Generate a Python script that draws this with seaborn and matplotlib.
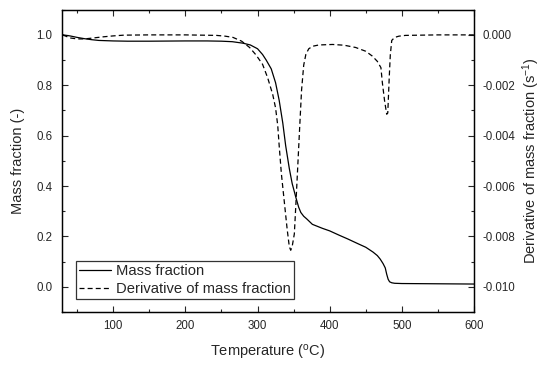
import numpy as np
import pandas as pd
import matplotlib
matplotlib.use("Agg")
import matplotlib.pyplot as plt
from matplotlib.ticker import MultipleLocator
import seaborn as sns

# Mass fraction (left axis)
mass_T = [30, 40, 50, 60, 70, 80, 100, 120, 150, 200, 230, 250, 265, 280, 290,
          300, 307, 312, 319, 325, 330, 335, 339, 344, 348, 353, 357, 360, 364,
          368, 376, 390, 400, 413, 425, 440, 450, 460, 466, 470, 474, 477,
          479, 481, 483, 486, 490, 500, 550, 600]
mass_val = [1.0, 0.996, 0.99, 0.985, 0.981, 0.978, 0.976, 0.975, 0.975, 0.976,
            0.976, 0.975, 0.973, 0.967, 0.96, 0.945, 0.922, 0.90, 0.865, 0.81,
            0.74, 0.65, 0.56, 0.47, 0.41, 0.356, 0.316, 0.295, 0.28, 0.27,
            0.248, 0.232, 0.222, 0.205, 0.19, 0.17, 0.157, 0.138, 0.124, 0.11,
            0.092, 0.075, 0.05, 0.03, 0.02, 0.016, 0.014, 0.013, 0.012, 0.011]

# Derivative of mass fraction (right axis, s^-1)
deriv_T = [30, 40, 50, 60, 70, 85, 100, 115, 150, 200, 243, 255, 266, 278, 289,
           298, 307, 314, 321, 325, 328, 330, 333, 337, 341, 344, 346, 348,
           351, 353, 355.6, 358, 361, 364, 367, 371, 376.5, 385, 404, 420, 436,
           450, 459, 466, 471, 473, 476, 479, 480.5, 482.5, 484, 486, 490, 496,
           505, 550, 600]
deriv_val = [0.0, -0.00012, -0.00016, -0.00016, -0.00013, -0.00008, -0.00004,
             -0.00001, 0.0, 0.0, -0.00002, -0.00005, -0.0001, -0.00025, -0.0005,
             -0.0008, -0.00117, -0.0017, -0.00236, -0.0029, -0.0036, -0.0044,
             -0.0055, -0.0066, -0.0077, -0.0084, -0.00855, -0.0084, -0.0079,
             -0.0068, -0.0053, -0.0039, -0.0022, -0.0012, -0.00077, -0.00055,
             -0.00045, -0.0004, -0.00038, -0.00041, -0.0005, -0.00065,
             -0.00084, -0.00105, -0.0013, -0.0019, -0.0026, -0.00315, -0.0031,
             -0.0017, -0.0008, -0.00022, -0.0001, -0.00005, -0.00002, 0.0, 0.0]

x_label = r"Temperature ($\mathregular{^{o}}$C)"
y_left_label = "Mass fraction (-)"
y_right_label = r"Derivative of mass fraction (s$\mathregular{^{-1}}$)"
legend_labels = ["Mass fraction", "Derivative of mass fraction"]

sns.set_style("ticks")
plt.rcParams["font.family"] = ["Liberation Sans", "DejaVu Sans"]
plt.rcParams["mathtext.fontset"] = "custom"
plt.rcParams["mathtext.rm"] = "Liberation Sans"

fig = plt.figure(figsize=(5.41, 3.65), dpi=100)
ax = fig.add_axes([62 / 541, 1 - 312 / 365, (474 - 62) / 541, (312 - 9.7) / 365])
ax2 = ax.twinx()

df_m = pd.DataFrame({"T": mass_T, "v": mass_val})
df_d = pd.DataFrame({"T": deriv_T, "v": deriv_val})

sns.lineplot(data=df_m, x="T", y="v", ax=ax, color="black", lw=0.9,
             label=legend_labels[0], legend=False)
sns.lineplot(data=df_d, x="T", y="v", ax=ax2, color="black", lw=0.9,
             label=legend_labels[1], legend=False)
ax2.lines[0].set_dashes((4, 2.5))

ax.set_xlim(29, 600)
ax.set_ylim(-0.1, 1.1)
ax2.set_ylim(-0.011, 0.001)

ax.xaxis.set_major_locator(MultipleLocator(100))
ax.xaxis.set_minor_locator(MultipleLocator(50))
ax.yaxis.set_major_locator(MultipleLocator(0.2))
ax.yaxis.set_minor_locator(MultipleLocator(0.1))
ax2.yaxis.set_major_locator(MultipleLocator(0.002))
ax2.yaxis.set_minor_locator(MultipleLocator(0.001))
ax.yaxis.set_major_formatter(matplotlib.ticker.FormatStrFormatter("%.1f"))
ax2.yaxis.set_major_formatter(matplotlib.ticker.FormatStrFormatter("%.3f"))

ax.tick_params(axis="x", which="both", direction="in", top=True, labelsize=8.3,
               pad=6)
ax.tick_params(axis="y", which="both", direction="in", right=False,
               labelsize=8.3, pad=7)
ax2.tick_params(axis="y", which="both", direction="in", labelsize=8.3, pad=6)
for a in (ax, ax2):
    a.tick_params(which="major", length=4.3, width=0.8)
    a.tick_params(which="minor", length=2.2, width=0.8)
    for s in a.spines.values():
        s.set_linewidth(0.9)
        s.set_visible(True)
        s.set_color("black")

ax.set_xlabel(x_label, fontsize=10.5, labelpad=8)
ax.set_ylabel(y_left_label, fontsize=10.5, labelpad=8)
ax2.set_ylabel(y_right_label, fontsize=10.5, labelpad=4)

handles = ax.lines[:1] + ax2.lines[:1]
leg = ax.legend(handles, legend_labels, loc="lower left",
                bbox_to_anchor=(14 / 412, 13 / 302.3), fontsize=10.6,
                frameon=True, fancybox=False, framealpha=1, edgecolor="#333333",
                handlelength=2.2, handletextpad=0.3, borderpad=0.2,
                labelspacing=0.25, borderaxespad=0)
leg.get_frame().set_linewidth(0.9)

fig.savefig("out.png", dpi=100)
